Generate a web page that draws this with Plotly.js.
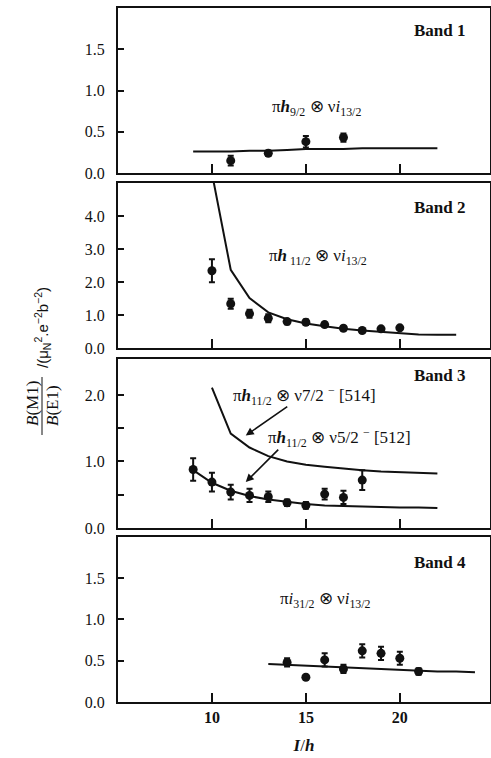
<!DOCTYPE html>
<html><head><meta charset="utf-8">
<script src="https://cdn.plot.ly/plotly-3.0.1.min.js"></script>
<style>html,body{margin:0;padding:0;background:#fff}#chart{width:491px;height:758px}</style>
</head><body><div id="chart"></div>
<script>
// ---- data ----
const band1Spin = [11, 13, 15, 17];
const band1Val  = [0.15, 0.24, 0.38, 0.43];
const band1Err  = [0.06, 0.03, 0.07, 0.05];
const band1TheoSpin = [9,10,11,12,13,14,15,16,17,18,19,20,21,22];
const band1TheoVal  = [0.26,0.26,0.26,0.27,0.27,0.28,0.29,0.29,0.29,0.30,0.30,0.30,0.30,0.30];

const band2Spin = [10,11,12,13,14,15,16,17,18,19,20];
const band2Val  = [2.34,1.34,1.04,0.90,0.80,0.78,0.71,0.60,0.53,0.58,0.61];
const band2Err  = [0.35,0.15,0.12,0.12,0.08,0.08,0.06,0.05,0.05,0.05,0.06];
const band2TheoSpin = [10,11,12,13,14,15,16,17,18,19,20,21,22,23];
const band2TheoVal  = [5.3,2.37,1.51,1.08,0.87,0.74,0.66,0.58,0.53,0.49,0.45,0.41,0.40,0.40];

const band3Spin = [9,10,11,12,13,14,15,16,17,18];
const band3Val  = [0.88,0.69,0.54,0.49,0.47,0.38,0.34,0.51,0.46,0.72];
const band3Err  = [0.17,0.14,0.11,0.10,0.08,0.05,0.05,0.08,0.10,0.15];
const band3TheoASpin = [10,11,12,13,14,15,16,17,18,19,20,21,22];
const band3TheoAVal  = [2.11,1.42,1.21,1.08,1.00,0.95,0.92,0.89,0.87,0.85,0.84,0.83,0.82];
const band3TheoBSpin = [9,10,11,12,13,14,15,16,17,18,19,20,21,22];
const band3TheoBVal  = [0.87,0.68,0.56,0.48,0.43,0.39,0.36,0.34,0.33,0.32,0.31,0.31,0.31,0.30];

const band4Spin = [14,15,16,17,18,19,20,21];
const band4Val  = [0.48,0.30,0.51,0.40,0.62,0.59,0.53,0.37];
const band4Err  = [0.05,0.0,0.08,0.05,0.08,0.08,0.08,0.04];
const band4TheoSpin = [13,14,15,16,17,18,19,20,21,22,23,24];
const band4TheoVal  = [0.46,0.45,0.44,0.43,0.42,0.41,0.40,0.39,0.38,0.37,0.37,0.36];

const xTickVals = [10, 15, 20];
const xTickText = ['10', '15', '20'];
const bandNames = ['Band 1', 'Band 2', 'Band 3', 'Band 4'];

// ---- styling ----
const INK = '#111';
const FONT = 'Liberation Serif, Times New Roman, serif';
const PAD = '\u2002';

function pts(x, y, e, xa, ya) {
  return {x: x, y: y, xaxis: xa, yaxis: ya, type: 'scatter', mode: 'markers',
    marker: {color: INK, size: 9, symbol: 'circle'},
    error_y: {type: 'data', array: e, visible: true, color: INK, thickness: 2, width: 3},
    showlegend: false, hoverinfo: 'skip', cliponaxis: false};
}
function line(x, y, xa, ya) {
  return {x: x, y: y, xaxis: xa, yaxis: ya, type: 'scatter', mode: 'lines',
    line: {color: INK, width: 2, shape: 'linear'}, showlegend: false, hoverinfo: 'skip'};
}

const data = [
  line(band1TheoSpin, band1TheoVal, 'x', 'y'),
  pts(band1Spin, band1Val, band1Err, 'x', 'y'),
  line(band2TheoSpin, band2TheoVal, 'x2', 'y2'),
  pts(band2Spin, band2Val, band2Err, 'x2', 'y2'),
  line(band3TheoASpin, band3TheoAVal, 'x3', 'y3'),
  line(band3TheoBSpin, band3TheoBVal, 'x3', 'y3'),
  pts(band3Spin, band3Val, band3Err, 'x3', 'y3'),
  line(band4TheoSpin, band4TheoVal, 'x4', 'y4'),
  pts(band4Spin, band4Val, band4Err, 'x4', 'y4'),
];

function xax(anchor, showLabels) {
  return {anchor: anchor, range: [5, 24.8], tickvals: xTickVals, ticktext: xTickText,
    showticklabels: showLabels, ticks: 'inside', ticklen: 9, tickwidth: 2, tickcolor: INK,
    showline: true, linecolor: INK, linewidth: 2, mirror: true, showgrid: false, zeroline: false,
    tickfont: {family: FONT, size: 16, color: INK, weight: 'bold'}, fixedrange: true};
}
function yax(anchor, domain, range, vals, text) {
  return {anchor: anchor, domain: domain, range: range, tickvals: vals,
    ticktext: text.map(t => t ? t + PAD : t),
    ticks: 'inside', ticklen: 6, tickwidth: 2, tickcolor: INK,
    showline: true, linecolor: INK, linewidth: 2, mirror: true, showgrid: false, zeroline: false,
    tickfont: {family: FONT, size: 16, color: INK}, fixedrange: true};
}

const L = 118, R = 490, T = 8, B = 702;
function px(xp) { return (xp - L) / (R - L); }
function py(yp) { return (B - yp) / (B - T); }

const layout = {
  width: 491, height: 758,
  margin: {l: L, r: 491 - R, t: T, b: 758 - B},
  paper_bgcolor: '#fff', plot_bgcolor: '#fff',
  font: {family: FONT, color: INK},
  xaxis: xax('y', false),
  xaxis2: Object.assign(xax('y2', false), {matches: 'x'}),
  xaxis3: Object.assign(xax('y3', false), {matches: 'x'}),
  xaxis4: Object.assign(xax('y4', true), {matches: 'x',
    title: {text: '<i><b>I</b></i>/<i><b>h</b></i>', font: {family: FONT, size: 17, color: INK}, standoff: 14}}),
  yaxis:  yax('x',  [0.7622, 1.0],    [0, 2.0], [0, 0.5, 1, 1.5], ['0.0','0.5','1.0','1.5']),
  yaxis2: yax('x2', [0.5101, 0.7478], [0, 5.0], [0, 1, 2, 3, 4], ['0.0','1.0','2.0','3.0','4.0']),
  yaxis3: yax('x3', [0.2507, 0.4942], [0, 2.54], [0, 0.5, 1, 1.5, 2], ['0.0','','1.0','','2.0']),
  yaxis4: yax('x4', [0, 0.2378],      [0, 2.0], [0, 0.5, 1, 1.5], ['0.0','0.5','1.0','1.5']),
  shapes: [
    {type: 'line', xref: 'paper', yref: 'paper', x0: px(42), x1: px(42), y0: py(377), y1: py(435),
     line: {color: INK, width: 1}}
  ],
  annotations: [
    {xref: 'paper', yref: 'paper', x: px(468), y: py(30), xanchor: 'right', yanchor: 'middle',
     text: '<b>' + bandNames[0] + '</b>', showarrow: false, font: {family: FONT, size: 17, color: INK}},
    {xref: 'paper', yref: 'paper', x: px(468), y: py(207), xanchor: 'right', yanchor: 'middle',
     text: '<b>' + bandNames[1] + '</b>', showarrow: false, font: {family: FONT, size: 17, color: INK}},
    {xref: 'paper', yref: 'paper', x: px(468), y: py(375), xanchor: 'right', yanchor: 'middle',
     text: '<b>' + bandNames[2] + '</b>', showarrow: false, font: {family: FONT, size: 17, color: INK}},
    {xref: 'paper', yref: 'paper', x: px(468), y: py(562), xanchor: 'right', yanchor: 'middle',
     text: '<b>' + bandNames[3] + '</b>', showarrow: false, font: {family: FONT, size: 17, color: INK}},

    {xref: 'paper', yref: 'paper', x: px(316), y: py(108), xanchor: 'center', yanchor: 'middle', showarrow: false,
     text: 'π<i><b>h</b></i><sub>9/2</sub> ⊗ ν<i>i</i><sub>13/2</sub>', font: {family: FONT, size: 17, color: INK}},
    {xref: 'paper', yref: 'paper', x: px(318), y: py(257), xanchor: 'center', yanchor: 'middle', showarrow: false,
     text: 'π<i><b>h</b></i><sub> 11/2</sub> ⊗ ν<i>i</i><sub>13/2</sub>', font: {family: FONT, size: 17, color: INK}},
    {xref: 'paper', yref: 'paper', x: px(304), y: py(395), xanchor: 'center', yanchor: 'middle', showarrow: false,
     text: 'π<i><b>h</b></i><sub>11/2</sub> ⊗ ν7/2 <sup>−</sup> [514]', font: {family: FONT, size: 17, color: INK}},
    {xref: 'paper', yref: 'paper', x: px(339), y: py(437), xanchor: 'center', yanchor: 'middle', showarrow: false,
     text: 'π<i><b>h</b></i><sub>11/2</sub> ⊗ ν5/2 <sup>−</sup> [512]', font: {family: FONT, size: 17, color: INK}},
    {xref: 'paper', yref: 'paper', x: px(325), y: py(600), xanchor: 'center', yanchor: 'middle', showarrow: false,
     text: 'π<i>i</i><sub>31/2</sub> ⊗ ν<i>i</i><sub>13/2</sub>', font: {family: FONT, size: 17, color: INK}},

    // arrows in band 3
    {xref: 'x3', yref: 'y3', x: 11.8, y: 1.39, ax: 43, ay: -30, text: '', showarrow: true,
     arrowhead: 2, arrowsize: 1, arrowwidth: 1.6, arrowcolor: INK},
    {xref: 'x3', yref: 'y3', x: 11.8, y: 0.69, ax: 34, ay: -34, text: '', showarrow: true,
     arrowhead: 2, arrowsize: 1, arrowwidth: 1.6, arrowcolor: INK},

    // y-axis title (fraction)
    {xref: 'paper', yref: 'paper', x: px(32), y: py(404), xanchor: 'center', yanchor: 'middle', textangle: -90,
     showarrow: false, text: '<i>B</i>(M1)', font: {family: FONT, size: 17, color: INK}},
    {xref: 'paper', yref: 'paper', x: px(52), y: py(406), xanchor: 'center', yanchor: 'middle', textangle: -90,
     showarrow: false, text: '<i>B</i>(E1)', font: {family: FONT, size: 17, color: INK}},
    {xref: 'paper', yref: 'paper', x: px(42), y: py(328), xanchor: 'center', yanchor: 'middle', textangle: -90,
     showarrow: false, text: '/(μ<sub>N</sub><sup>2</sup>.e<sup>−2</sup>b<sup>−2</sup>)', font: {family: 'Liberation Sans, Arial, sans-serif', size: 15, color: INK}}
  ]
};

Plotly.newPlot('chart', data, layout, {displayModeBar: false, staticPlot: true});
</script>
</body></html>
